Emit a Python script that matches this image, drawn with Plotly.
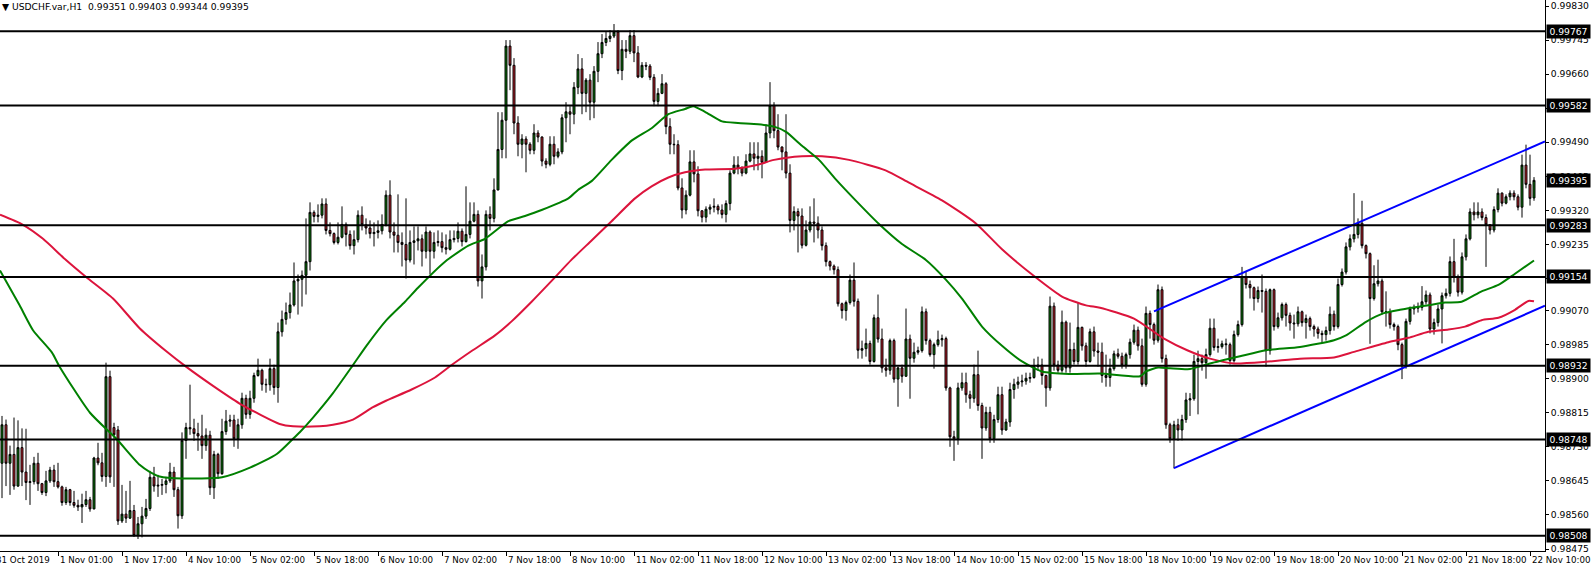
import plotly.graph_objects as go

# ---------------- data (prices in 1e-5 units) ----------------
opens = [
98689,98785,98689,98711,98632,98728,98667,98641,98643,98689,98638,98616,98645,98672,98643,98630,98591,98623,98591,98584,
98580,98586,98598,98575,98702,98690,98656,98905,98778,98772,98545,98562,98552,98571,98509,98538,98557,98576,98654,98632,
98634,98636,98645,98667,98623,98558,98746,98778,98775,98763,98757,98733,98759,98628,98711,98663,98768,98794,98797,98750,
98785,98851,98811,98851,98908,98921,98886,98885,98925,98878,99017,99048,99065,99084,99144,99148,99158,99192,99315,99305,
99308,99336,99270,99262,99240,99253,99285,99260,99232,99247,99308,99284,99276,99262,99265,99269,99285,99358,99266,99258,
99240,99235,99196,99240,99244,99249,99218,99266,99218,99240,99242,99227,99223,99247,99250,99268,99242,99260,99293,99310,
99144,99179,99310,99300,99371,99472,99545,99730,99682,99538,99485,99498,99485,99470,99513,99503,99443,99435,99485,99455,
99466,99551,99566,99560,99627,99673,99612,99645,99590,99667,99711,99739,99749,99755,99765,99669,99722,99717,99756,99713,
99653,99682,99680,99652,99592,99612,99636,99529,99485,99484,99376,99321,99358,99441,99411,99319,99303,99323,99328,99330,
99321,99310,99337,99413,99433,99426,99413,99443,99461,99450,99455,99440,99513,99582,99519,99478,99466,99413,99295,99317,
99306,99233,99271,99291,99288,99271,99232,99192,99181,99172,99087,99070,99090,99146,99093,98971,98975,98988,98943,99052,
98999,98927,98921,98995,98899,98927,98906,98999,98951,98966,98970,99067,98995,98960,98985,98997,99000,98877,98755,98750,
98877,98890,98860,98851,98910,98833,98777,98816,98750,98798,98860,98772,98792,98873,98886,98892,98894,98901,98903,98930,
98934,98908,98877,99081,98934,98921,99041,98927,98973,98943,99028,98982,98943,99017,98969,98966,98908,98903,98925,98962,
98956,98934,98960,98991,99021,98982,98886,99063,99035,98996,99122,98950,98785,98750,98785,98772,98798,98847,98850,98943,
98950,98940,98960,99026,98978,98980,98987,98985,98945,99010,99035,99155,99135,99127,99100,99120,99118,98970,99122,99030,
99052,99085,99058,99039,99037,99067,99040,99050,99030,99024,99013,99010,99020,99061,99030,99135,99166,99229,99249,99260,
99288,99232,99212,99100,99137,99144,99067,99067,99035,99030,98985,98932,99043,99074,99076,99078,99092,99109,99024,99040,
99074,99107,99113,99192,99153,99116,99204,99249,99316,99309,99316,99302,99284,99271,99322,99363,99338,99354,99363,99354,
99328,99433,99385,99351]

highs = [
98807,98798,98733,98803,98796,98776,98775,98685,98705,98715,98640,98670,98680,98685,98690,98633,98630,98625,98620,98598,
98613,98620,98605,98705,98740,98715,98940,98920,98790,98782,98635,98620,98645,98585,98555,98580,98600,98670,98680,98660,
98650,98655,98690,98680,98630,98766,98790,98885,98800,98790,98810,98776,98770,98720,98715,98800,98822,98810,98810,98800,
98865,98860,98870,98915,98950,98925,98900,98950,98935,99040,99070,99090,99115,99190,99160,99170,99300,99340,99320,99335,
99350,99350,99290,99265,99290,99330,99290,99270,99270,99320,99330,99300,99295,99290,99295,99310,99370,99395,99290,99360,
99265,99350,99270,99280,99280,99260,99280,99270,99265,99270,99265,99260,99270,99270,99290,99275,99380,99340,99340,99320,
99210,99320,99330,99400,99565,99565,99745,99745,99700,99555,99510,99505,99490,99535,99520,99505,99450,99505,99505,99475,
99560,99590,99580,99640,99710,99700,99650,99660,99680,99740,99760,99765,99770,99785,99770,99745,99745,99770,99770,99730,
99690,99690,99685,99660,99625,99660,99640,99550,99510,99495,99400,99370,99470,99470,99430,99320,99330,99335,99350,99335,
99335,99345,99420,99455,99455,99430,99460,99490,99490,99490,99470,99535,99640,99590,99560,99480,99560,99435,99330,99325,
99325,99295,99330,99350,99305,99280,99240,99195,99185,99180,99090,99095,99160,99190,99100,98995,99025,98995,99060,99110,
99025,98950,99000,99000,98930,98935,99075,99010,98990,98980,99080,99075,99000,98990,99020,99010,99005,98880,98770,98890,
98915,98915,98870,98935,98970,98840,98830,98830,98810,98880,98880,98800,98890,98900,98905,98910,98915,98915,98950,98955,
98950,98910,99105,99090,98945,99070,99045,99040,98990,99090,99030,98990,99025,99030,98990,98990,98960,98950,98970,98975,
98965,98965,99000,99035,99030,99000,99080,99070,99040,99135,99130,98960,98790,98795,98800,98810,98865,98864,98960,98970,
98960,98975,99050,99050,99000,98995,99000,98990,99020,99045,99179,99166,99145,99130,99130,99160,99125,99125,99125,99065,
99090,99090,99065,99060,99080,99070,99060,99055,99035,99030,99020,99030,99080,99070,99150,99175,99240,99260,99363,99300,
99344,99235,99215,99183,99197,99150,99118,99075,99040,99035,98990,99050,99080,99085,99090,99131,99120,99115,99050,99085,
99115,99125,99205,99249,99160,99215,99260,99325,99340,99340,99325,99310,99285,99330,99375,99365,99360,99370,99370,99360,
99459,99484,99459,99403]

lows = [
98602,98632,98610,98623,98630,98632,98597,98585,98636,98620,98610,98607,98640,98630,98626,98583,98585,98583,98578,98570,
98540,98580,98568,98574,98684,98643,98630,98640,98630,98535,98540,98540,98550,98505,98500,98504,98550,98570,98618,98605,
98610,98614,98640,98605,98526,98550,98700,98760,98745,98720,98700,98720,98610,98600,98650,98660,98760,98780,98730,98725,
98775,98800,98800,98840,98905,98870,98865,98870,98860,98840,99005,99035,99050,99080,99060,99080,99110,99170,99290,99290,
99300,99260,99255,99235,99235,99250,99230,99222,99210,99240,99270,99260,99250,99230,99250,99260,99280,99250,99215,99215,
99180,99150,99190,99185,99220,99180,99200,99160,99200,99230,99215,99210,99220,99240,99240,99230,99240,99250,99290,99130,
99100,99170,99270,99290,99370,99450,99450,99620,99510,99455,99450,99415,99460,99460,99490,99430,99425,99430,99435,99450,
99460,99490,99510,99535,99610,99560,99565,99545,99550,99640,99700,99730,99740,99750,99660,99645,99700,99710,99690,99650,
99650,99670,99645,99580,99580,99610,99510,99460,99460,99370,99300,99310,99355,99390,99305,99290,99290,99310,99315,99310,
99300,99290,99320,99410,99410,99405,99410,99440,99420,99420,99400,99440,99500,99500,99470,99420,99400,99265,99270,99215,
99225,99230,99265,99240,99250,99220,99180,99170,99160,99080,99050,99045,99085,99080,98950,98950,98955,98935,98940,98990,
98915,98905,98910,98890,98830,98890,98905,98850,98940,98960,98965,98985,98955,98925,98980,98980,98870,98730,98695,98735,
98870,98840,98825,98840,98820,98700,98770,98740,98740,98790,98760,98770,98780,98850,98875,98880,98885,98890,98900,98920,
98885,98830,98870,98920,98915,98915,98915,98915,98935,98935,98970,98930,98940,98955,98930,98890,98880,98880,98920,98950,
98925,98925,98950,98985,98970,98880,98880,99000,98985,98990,98940,98775,98740,98676,98745,98746,98790,98807,98845,98811,
98920,98900,98955,98970,98965,98975,98960,98935,98940,99005,99030,99125,99100,99070,99090,99065,98930,98960,99020,99025,
99045,99030,99020,99000,99030,99030,99000,99020,99005,99000,98990,98995,99010,99020,99025,99130,99160,99220,99240,99250,
99225,99200,98987,99095,99130,99060,99030,99025,99020,98971,98899,98925,99035,99060,99065,99070,99085,99013,99010,99030,
98988,99100,99105,99140,99105,99110,99195,99245,99295,99300,99295,99179,99260,99265,99315,99330,99335,99345,99345,99320,
99302,99375,99332,99344]

closes = [
98785,98689,98711,98632,98728,98667,98641,98643,98689,98638,98616,98645,98672,98643,98630,98591,98623,98591,98584,98580,
98586,98598,98575,98702,98690,98656,98905,98655,98760,98545,98562,98552,98571,98509,98538,98557,98576,98654,98632,98634,
98636,98645,98667,98623,98558,98746,98778,98775,98763,98757,98733,98759,98628,98711,98663,98768,98794,98797,98750,98785,
98851,98811,98851,98908,98921,98886,98885,98925,98878,99017,99048,99065,99084,99144,99148,99158,99192,99315,99305,99308,
99336,99270,99262,99240,99253,99285,99260,99232,99247,99308,99284,99276,99262,99265,99269,99285,99358,99266,99258,99240,
99235,99196,99240,99244,99249,99218,99266,99218,99240,99242,99227,99223,99247,99250,99268,99242,99260,99293,99310,99144,
99179,99310,99300,99371,99472,99545,99730,99682,99538,99485,99498,99485,99470,99513,99503,99443,99435,99485,99455,99466,
99551,99566,99560,99627,99673,99612,99645,99590,99667,99711,99739,99749,99755,99765,99669,99722,99717,99756,99713,99653,
99682,99680,99652,99592,99612,99636,99529,99485,99484,99376,99321,99358,99441,99411,99319,99303,99323,99328,99330,99321,
99310,99337,99413,99433,99426,99413,99443,99461,99450,99455,99440,99513,99582,99519,99478,99466,99413,99295,99317,99306,
99233,99271,99291,99288,99271,99232,99192,99181,99172,99087,99070,99090,99146,99093,98971,98975,98988,98943,99052,98999,
98927,98921,98995,98899,98927,98906,98999,98951,98966,98970,99067,98995,98960,98985,98997,99000,98877,98755,98750,98877,
98890,98860,98851,98910,98833,98777,98816,98750,98798,98860,98772,98792,98873,98886,98892,98894,98901,98903,98930,98934,
98908,98877,99081,98934,98921,99041,98927,98973,98943,99028,98982,98943,99017,98969,98966,98908,98903,98925,98962,98956,
98934,98960,98991,99021,98982,98886,99063,99035,98996,99122,98950,98785,98750,98785,98772,98798,98847,98850,98943,98950,
98940,98960,99026,98978,98980,98987,98985,98945,99010,99035,99155,99135,99127,99100,99120,99118,98970,99122,99030,99052,
99085,99058,99039,99037,99067,99040,99050,99030,99024,99013,99010,99020,99061,99030,99135,99166,99229,99249,99260,99288,
99232,99212,99100,99137,99144,99067,99067,99035,99030,98985,98932,99043,99074,99076,99078,99092,99109,99024,99040,99074,
99107,99113,99192,99153,99116,99204,99249,99316,99309,99316,99302,99284,99271,99322,99363,99338,99354,99363,99354,99328,
99433,99385,99350,99395]

# moving averages (bar index, price*1e5)
ma_green_bars = [-0.5, 4.4, 7.75, 12.5, 14.4, 22, 28.6, 34.4, 37, 39.4, 45, 55, 62, 68.7, 72.75, 74.5, 77.75, 82.75,
                 87.75, 91.1, 96, 100.75, 104, 110.75, 116.6, 120.75, 126.6, 130.75, 134.9, 141.6, 144, 147.4, 152.4,
                 157.4, 162.4, 166.6, 170.75, 172.8, 175.75, 180, 184, 189, 193, 196, 200, 204.25, 208.4, 213.4, 219.25,
                 225, 230.9, 235.9, 240, 245, 250, 255, 260, 266.75, 274.5, 284.5, 286, 289, 292, 297, 302, 309.5, 316,
                 324.5, 333, 336, 341, 345.3, 349.5, 351.6, 356.6, 360.75, 364.9, 369.9, 374.1, 378.25, 383]
ma_green_vals = [99170, 99083, 99021, 98965, 98930, 98815, 98750, 98685, 98667, 98656, 98651, 98654, 98678, 98712, 98750,
                 98767, 98803, 98864, 98934, 98982, 99045, 99092, 99127, 99192, 99232, 99249, 99293, 99306, 99321, 99350,
                 99371, 99393, 99446, 99494, 99525, 99560, 99573, 99580, 99566, 99542, 99538, 99535, 99529, 99516, 99481,
                 99446, 99398, 99345, 99286, 99236, 99197, 99148, 99100, 99030, 98982, 98943, 98918, 98912, 98913, 98906,
                 98918, 98928, 98926, 98924, 98938, 98956, 98971, 98979, 98996, 99008, 99042, 99063, 99072, 99076, 99083,
                 99090, 99092, 99118, 99134, 99162, 99195]

ma_red_bars = [-0.5, 5.25, 10.25, 16, 21.1, 27.75, 34.4, 41, 46, 52.75, 59.4, 64.4, 69.4, 72.75, 79.4, 82.75, 87.75,
               92.75, 96, 102.4, 108.25, 112.4, 117.4, 123.25, 127.4, 132.4, 137.4, 142.4, 147.4, 152.4, 158.25, 162.4,
               166.6, 170.75, 175.75, 183.25, 189, 193, 200, 205, 211.75, 220.9, 226.75, 235, 243.4, 250, 258.4, 265,
               271, 274.5, 283, 290.5, 296.3, 302, 308, 316, 324.5, 333, 338, 346.6, 351.6, 356.6, 361.6, 365.75,
               369.9, 374.1, 378.25, 381.6, 383]
ma_red_vals = [99309, 99284, 99249, 99196, 99153, 99100, 99026, 98969, 98930, 98882, 98838, 98811, 98787, 98781, 98781,
               98785, 98798, 98829, 98845, 98873, 98903, 98934, 98969, 99008, 99043, 99092, 99144, 99197, 99245, 99293,
               99350, 99380, 99402, 99415, 99422, 99424, 99434, 99446, 99455, 99455, 99446, 99420, 99389, 99345, 99288,
               99223, 99153, 99105, 99083, 99077, 99050, 99000, 98971, 98950, 98938, 98942, 98950, 98953, 98967, 98991,
               99002, 99017, 99023, 99030, 99046, 99052, 99072, 99094, 99093]

# channel trend lines (bar index, price)
upper_trend_bars = [288, 385.75]
upper_trend_vals = [0.99068, 0.99492]
lower_trend_bars = [293, 385.75]
lower_trend_vals = [0.98677, 0.99082]

# horizontal levels and price labels
levels = [0.99767, 0.99582, 0.99283, 0.99154, 0.98932, 0.98748, 0.98508]
current_price = 0.99395
price_ticks = [0.99830, 0.99745, 0.99660, 0.99575, 0.99490, 0.99405, 0.99320, 0.99235, 0.99150,
               0.99070, 0.98985, 0.98900, 0.98815, 0.98730, 0.98645, 0.98560, 0.98475]

# time axis labels (every 16 H1 bars, first one at bar -2)
time_labels = ["31 Oct 2019", "1 Nov 01:00", "1 Nov 17:00", "4 Nov 10:00", "5 Nov 02:00", "5 Nov 18:00",
               "6 Nov 10:00", "7 Nov 02:00", "7 Nov 18:00", "8 Nov 10:00", "11 Nov 02:00", "11 Nov 18:00",
               "12 Nov 10:00", "13 Nov 02:00", "13 Nov 18:00", "14 Nov 10:00", "15 Nov 02:00", "15 Nov 18:00",
               "18 Nov 10:00", "19 Nov 02:00", "19 Nov 18:00", "20 Nov 10:00", "21 Nov 02:00", "21 Nov 18:00",
               "22 Nov 10:00"]
first_label_bar = -2
label_step = 16

title_text = "USDCHF.var,H1\u00a0\u00a00.99351 0.99403 0.99344 0.99395"

# ---------------- build ----------------
sc = 1e-5
n = len(closes)
xs = list(range(n))
O = [v * sc for v in opens]
C = [v * sc for v in closes]
H = [max(h, o, c) * sc for h, o, c in zip(highs, opens, closes)]
L = [min(l, o, c) * sc for l, o, c in zip(lows, opens, closes)]

XMIN, XMAX = -0.5, 385.75
YMIN, YMAX = 0.98470, 0.99845
FONT = "DejaVu Sans"
FS = 9.2
FSX = 8.7

fig = go.Figure()
fig.add_trace(go.Candlestick(
    x=xs, open=O, high=H, low=L, close=C,
    increasing=dict(line=dict(color="black", width=1), fillcolor="#0A7E0A"),
    decreasing=dict(line=dict(color="black", width=1), fillcolor="#C8202C"),
    whiskerwidth=0, showlegend=False, hoverinfo="skip"))

fig.add_trace(go.Scatter(x=ma_red_bars, y=[v * sc for v in ma_red_vals], mode="lines",
                         line=dict(color="#DC143C", width=2, shape="spline", smoothing=0.6),
                         showlegend=False, hoverinfo="skip"))
fig.add_trace(go.Scatter(x=ma_green_bars, y=[v * sc for v in ma_green_vals], mode="lines",
                         line=dict(color="#008000", width=2, shape="spline", smoothing=0.6),
                         showlegend=False, hoverinfo="skip"))
fig.add_trace(go.Scatter(x=upper_trend_bars, y=upper_trend_vals, mode="lines",
                         line=dict(color="#0000FF", width=2), showlegend=False, hoverinfo="skip"))
fig.add_trace(go.Scatter(x=lower_trend_bars, y=lower_trend_vals, mode="lines",
                         line=dict(color="#0000FF", width=2), showlegend=False, hoverinfo="skip"))

shapes = []
for lv in levels:
    shapes.append(dict(type="line", xref="paper", x0=0, x1=1, yref="y", y0=lv, y1=lv,
                       line=dict(color="black", width=2), layer="above"))

annotations = []
for lv in levels + [current_price]:
    annotations.append(dict(xref="paper", x=1, yref="y", y=lv, xanchor="left", yanchor="middle",
                            xshift=1, text=f"{lv:.5f}", showarrow=False, bgcolor="black",
                            font=dict(family=FONT, size=FS, color="white"),
                            width=41, height=11, borderpad=1, align="center"))

label_bars = [first_label_bar + label_step * k for k in range(len(time_labels))]
for b, t in zip(label_bars, time_labels):
    frac = (b - XMIN) / (XMAX - XMIN)
    annotations.append(dict(xref="paper", x=frac, yref="paper", y=0, xanchor="left", yanchor="top",
                            xshift=0, yshift=-2, text=t, showarrow=False,
                            font=dict(family=FONT, size=FSX, color="black")))

annotations.append(dict(xref="paper", x=0, yref="paper", y=1, xanchor="left", yanchor="top",
                        xshift=0, yshift=1, text="\u25BC " + title_text, showarrow=False,
                        font=dict(family=FONT, size=FS, color="black")))

fig.update_layout(
    width=1592, height=569,
    margin=dict(l=0, r=47, t=0, b=18, pad=0),
    paper_bgcolor="white", plot_bgcolor="white",
    shapes=shapes, annotations=annotations,
    font=dict(family=FONT, size=FS, color="black"),
    boxgap=0.3,
    xaxis=dict(range=[XMIN, XMAX], rangeslider=dict(visible=False), showgrid=False, zeroline=False,
               showline=True, linecolor="black", linewidth=1, ticks="outside", ticklen=4,
               tickcolor="black", tickvals=label_bars, showticklabels=False, fixedrange=True),
    yaxis=dict(range=[YMIN, YMAX], side="right", showgrid=False, zeroline=False, showline=True,
               linecolor="black", linewidth=1, ticks="outside", ticklen=3, tickcolor="black",
               tickvals=price_ticks, ticktext=[f"{v:.5f}" for v in price_ticks],
               tickfont=dict(family=FONT, size=FS, color="black"), automargin=False, fixedrange=True),
)

fig.write_html("out.html", config={"displayModeBar": False},
               post_script="document.body.style.margin='0';document.body.style.overflow='hidden';")
